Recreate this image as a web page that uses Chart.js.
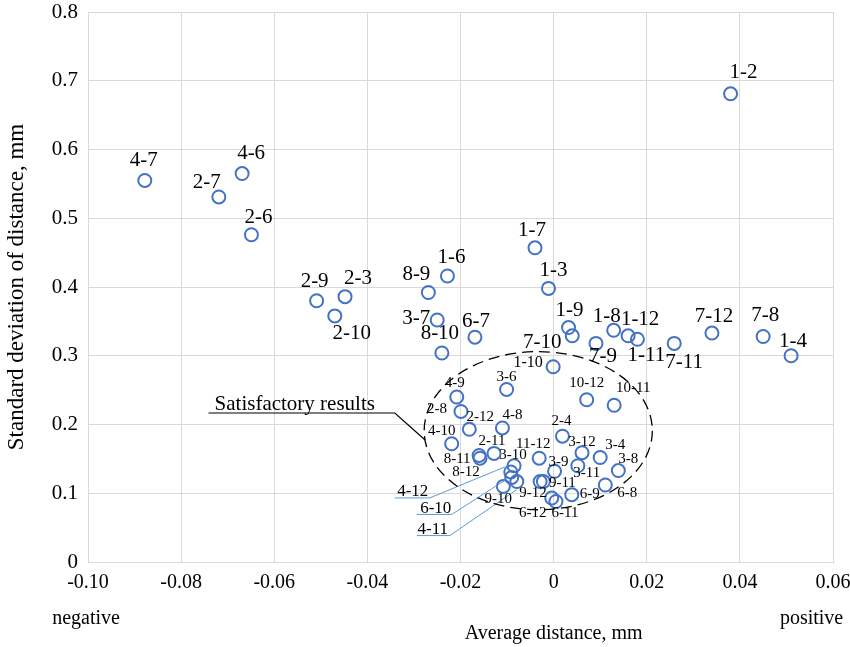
<!DOCTYPE html>
<html>
<head>
<meta charset="utf-8">
<script src="https://cdn.jsdelivr.net/npm/chart.js@4.4.1/dist/chart.umd.min.js"></script>
<style>
  body { margin: 0; background: #fff; }
  canvas { display: block; }
</style>
</head>
<body>
<canvas id="grafico" width="850" height="647"></canvas>
<script>
// pares de pontos medidos
const pairs = ['1-2','4-7','2-7','4-6','2-6','2-9','2-3','2-10','8-9','1-6','3-7','8-10','6-7','1-7','1-3',
  '1-9','7-10','7-9','1-8','1-12','1-11','7-11','7-12','7-8','1-4','1-10','3-6','4-9','2-8','2-12','4-8',
  '4-10','10-12','10-11','2-4','2-11','11-12','3-12','3-4','3-8','8-11','8-12','3-10','4-12','6-10','4-11',
  '9-10','9-12','9-11','3-9','3-11','6-9','6-8','6-12','6-11'];
const avgDist = [0.0380,-0.0878,-0.0719,-0.0669,-0.0649,-0.0509,-0.0448,-0.0470,-0.0269,-0.0228,-0.0250,-0.0240,-0.0169,-0.0040,-0.0011,
  0.0032,0.0040,0.0091,0.0129,0.0160,0.0180,0.0259,0.0340,0.0450,0.0510,-0.0001,-0.0101,-0.0208,-0.0199,-0.0181,-0.0110,
  -0.0219,0.0071,0.0130,0.0019,-0.0128,-0.0031,0.0061,0.0100,0.0139,-0.0160,-0.0158,-0.0085,-0.0092,-0.0090,-0.0079,
  -0.0108,-0.0029,-0.0022,0.0002,0.0052,0.0039,0.0111,-0.0004,0.0005];
const stdDev = [0.681,0.555,0.531,0.565,0.476,0.380,0.386,0.358,0.392,0.416,0.352,0.304,0.327,0.457,0.398,
  0.341,0.329,0.318,0.337,0.329,0.324,0.318,0.333,0.328,0.300,0.284,0.251,0.240,0.219,0.193,0.195,
  0.172,0.236,0.228,0.183,0.158,0.151,0.159,0.152,0.133,0.155,0.151,0.140,0.131,0.123,0.117,
  0.110,0.117,0.117,0.132,0.140,0.098,0.112,0.093,0.088];

const xTicks = [-0.10,-0.08,-0.06,-0.04,-0.02,0,0.02,0.04,0.06];
const yTicks = [0,0.1,0.2,0.3,0.4,0.5,0.6,0.7,0.8];

// posicao dos rotulos (dx, dy em px, tamanho da fonte)
const labelPos = {
  '1-2':[13,-21,21],'4-7':[-1,-20,21],'2-7':[-12,-14,21],'4-6':[9,-20,21],'2-6':[7,-17,21],
  '2-9':[-2,-19,21],'2-3':[13,-18,21],'2-10':[17,18,21],'8-9':[-12,-18,21],'1-6':[4,-19,21],
  '3-7':[-21,-2,21],'8-10':[-2,-20,21],'6-7':[1,-16,21],'1-7':[-3,-17,21],'1-3':[5,-18,21],
  '1-9':[1,-17,21],'7-10':[-30,7,21],'7-9':[7,13,21],'1-8':[-7,-14,21],'1-12':[12,-16,21],
  '1-11':[9,16,21],'7-11':[10,19,21],'7-12':[2,-17,21],'7-8':[2,-21,21],'1-4':[2,-14,21],
  '1-10':[-25,-4,16],'3-6':[0,-12,15],'4-9':[-2,-14,15],'2-8':[-24,-2,15],'2-12':[11,-12,15],
  '4-8':[10,-13,15],'4-10':[-10,-13,15],'10-12':[0,-17,15],'10-11':[19,-17,15],'2-4':[-1,-15,15],
  '2-11':[-2,-12,15],'11-12':[-6,-14,15],'3-12':[0,-11,15],'3-4':[15,-12,15],'3-8':[10,-12,15],
  '8-11':[-22,4,15],'8-12':[-14,14,15],'3-10':[-1,-11,15],'3-9':[4,-9,15],'3-11':[9,7,15],
  '9-11':[19,1,15],'9-12':[-7,11,15],'9-10':[-5,13,15],'6-9':[18,-1,15],'6-8':[22,8,15],
  '6-12':[-19,15,15],'6-11':[9,12,15],
  '4-12':[-98,20,17],'6-10':[-76,31,17],'4-11':[-84,48,17]
};
// linhas de chamada (relativas ao ponto)
const leaders = {
  '4-12':[[-116,26],[-81,26],[-6,-5]],
  '6-10':[[-95,37],[-60,37],[-7,3]],
  '4-11':[[-100,54],[-67,54],[0,8]]
};
// elipse "Satisfactory results" em coordenadas de dados
const ellipse = { cx: -0.0033, cy: 0.191, rx: 0.0245, ry: 0.115 };

const serif = '"Liberation Serif", "Times New Roman", serif';

const rotulos = {
  id: 'rotulos',
  afterDatasetsDraw(chart) {
    const ctx = chart.ctx;
    const meta = chart.getDatasetMeta(0);
    const sx = chart.scales.x, sy = chart.scales.y;
    ctx.save();
    ctx.textAlign = 'center';
    ctx.textBaseline = 'middle';
    ctx.fillStyle = '#000';
    meta.data.forEach((pt, i) => {
      const nome = pairs[i];
      const lp = labelPos[nome] || [0, -16, 15];
      ctx.font = lp[2] + 'px ' + serif;
      ctx.fillText(nome, pt.x + lp[0], pt.y + lp[1]);
      if (leaders[nome]) {
        ctx.strokeStyle = '#5B9BD5';
        ctx.lineWidth = 1;
        ctx.beginPath();
        leaders[nome].forEach(([dx, dy], k) => {
          if (k === 0) ctx.moveTo(pt.x + dx, pt.y + dy);
          else ctx.lineTo(pt.x + dx, pt.y + dy);
        });
        ctx.stroke();
      }
    });

    // elipse tracejada
    const cx = sx.getPixelForValue(ellipse.cx), cy = sy.getPixelForValue(ellipse.cy);
    const rx = Math.abs(sx.getPixelForValue(ellipse.cx + ellipse.rx) - cx);
    const ry = Math.abs(sy.getPixelForValue(ellipse.cy + ellipse.ry) - cy);
    ctx.strokeStyle = '#000';
    ctx.lineWidth = 1.3;
    ctx.setLineDash([11, 6]);
    ctx.beginPath();
    ctx.ellipse(cx, cy, rx, ry, 0, 0, Math.PI * 2);
    ctx.stroke();
    ctx.setLineDash([]);

    // chamada
    ctx.lineWidth = 1.2;
    ctx.beginPath();
    ctx.moveTo(sx.getPixelForValue(-0.0741), sy.getPixelForValue(0.2167));
    ctx.lineTo(sx.getPixelForValue(-0.0341), sy.getPixelForValue(0.2167));
    ctx.lineTo(sx.getPixelForValue(-0.0276), sy.getPixelForValue(0.1775));
    ctx.stroke();
    ctx.font = '21px ' + serif;
    ctx.fillText('Satisfactory results', sx.getPixelForValue(-0.0556), sy.getPixelForValue(0.2167) - 9);

    // textos do eixo x
    const base = chart.chartArea.bottom;
    ctx.font = '20px ' + serif;
    ctx.fillText('negative', sx.getPixelForValue(-0.1) - 2, base + 57);
    ctx.fillText('positive', sx.getPixelForValue(0.0554), base + 57);
    ctx.fillText('Average distance, mm', sx.getPixelForValue(0), base + 72);
    ctx.restore();
  }
};

new Chart(document.getElementById('grafico'), {
  type: 'scatter',
  data: {
    datasets: [{
      data: avgDist.map((x, i) => ({ x, y: stdDev[i] })),
      pointStyle: 'circle',
      pointRadius: 6.5,
      pointBorderWidth: 2,
      pointBorderColor: '#4472C4',
      pointBackgroundColor: 'rgba(255,255,255,0)'
    }]
  },
  options: {
    responsive: false,
    animation: false,
    layout: { padding: { top: 12, right: 17, left: 0, bottom: 0 } },
    plugins: { legend: { display: false }, tooltip: { enabled: false } },
    scales: {
      x: {
        type: 'linear',
        min: xTicks[0],
        max: xTicks[xTicks.length - 1],
        afterBuildTicks: s => { s.ticks = xTicks.map(v => ({ value: v })); },
        afterFit: s => { s.height = 85; s.paddingLeft = 0; s.paddingRight = 0; },
        grid: { color: '#d9d9d9', drawTicks: false },
        border: { color: '#d9d9d9' },
        ticks: {
          padding: 9,
          color: '#000',
          font: { family: serif, size: 20 },
          callback: v => v === 0 ? '0' : v.toFixed(2)
        }
      },
      y: {
        min: yTicks[0],
        max: yTicks[yTicks.length - 1],
        afterBuildTicks: s => { s.ticks = yTicks.map(v => ({ value: v })); },
        afterFit: s => { s.width = 88; s.paddingTop = 0; s.paddingBottom = 0; },
        grid: { color: '#d9d9d9', drawTicks: false },
        border: { color: '#d9d9d9' },
        title: {
          display: true,
          text: 'Standard deviation of distance, mm',
          color: '#000',
          font: { family: serif, size: 23 },
          padding: { top: 3, bottom: 4 }
        },
        ticks: {
          padding: 10,
          color: '#000',
          font: { family: serif, size: 21 },
          callback: v => v === 0 ? '0' : v.toFixed(1)
        }
      }
    }
  },
  plugins: [rotulos]
});
</script>
</body>
</html>
